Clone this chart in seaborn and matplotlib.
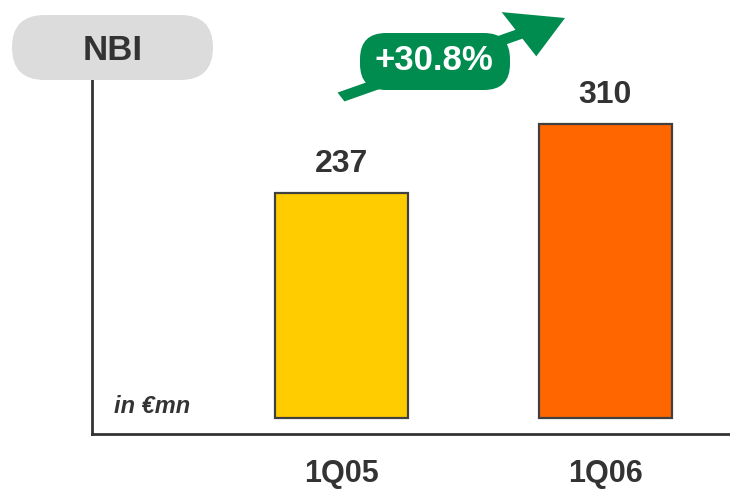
import matplotlib
matplotlib.use("Agg")
import matplotlib.pyplot as plt
from matplotlib.patches import FancyBboxPatch, FancyArrow
import seaborn as sns
import pandas as pd

quarters = ["1Q05", "1Q06"]
nbi_values = [237, 310]
bar_colors = ["#FFCC00", "#FF6600"]
growth_label = "+30.8%"
title_label = "NBI"
unit_label = "in €mn"

sns.set_theme(style="white")
plt.rcParams["font.family"] = ["Liberation Sans", "DejaVu Sans"]

df = pd.DataFrame({"quarter": quarters, "nbi": nbi_values})

fig = plt.figure(figsize=(7.3, 4.9), dpi=100)
ax = fig.add_axes([92 / 730, 56 / 490, 638 / 730, 354 / 490])

sns.barplot(data=df, x="quarter", y="nbi", hue="quarter",
            palette=bar_colors, saturation=1, width=0.505,
            edgecolor="#404040", linewidth=1.6, legend=False, ax=ax)

ax.set_xlim(-0.947, 1.474)
ax.set_ylim(-17, 356)

for i, v in enumerate(nbi_values):
    ax.text(i, v + 30, f"{v}", ha="center", va="center",
            fontsize=23, fontweight="bold", color="#333333")

ax.set_xlabel("")
ax.set_ylabel("")
ax.set_yticks([])
ax.set_xticks(range(len(quarters)))
ax.set_xticklabels(quarters, fontsize=22, fontweight="bold", color="#333333")
ax.tick_params(axis="x", length=0, pad=18)

for side in ["top", "right"]:
    ax.spines[side].set_visible(False)
for side in ["left", "bottom"]:
    ax.spines[side].set_color("#333333")
    ax.spines[side].set_linewidth(2)

ax.text(114 / 730, 1 - 406 / 490, unit_label, transform=fig.transFigure,
        fontsize=17, fontweight="bold", fontstyle="italic", color="#333333",
        ha="left", va="center")

# Title pill
pill = FancyBboxPatch((12 / 730, 1 - 80 / 490), 201 / 730, 65 / 490,
                      boxstyle="round,pad=0,rounding_size=%f" % (32.5 / 730),
                      transform=fig.transFigure, facecolor="#DCDCDC",
                      edgecolor="none", mutation_aspect=730 / 490)
fig.patches.append(pill)
fig.text(113 / 730, 1 - 51 / 490, title_label, fontsize=25, fontweight="bold",
         color="#333333", ha="center", va="center")

# Growth arrow
green = "#008C4F"
x0, y0 = 341, 97
x1, y1 = 565, 18
arrow = FancyArrow(x0 / 730, 1 - y0 / 490, (x1 - x0) / 730, -(y1 - y0) / 490,
                   width=10 / 490, head_width=50 / 490, head_length=52 / 730,
                   length_includes_head=True, transform=fig.transFigure,
                   color=green, linewidth=0)
fig.patches.append(arrow)

growth_pill = FancyBboxPatch((360 / 730, 1 - 90 / 490), 150 / 730, 57 / 490,
                             boxstyle="round,pad=0,rounding_size=%f" % (26 / 730),
                             transform=fig.transFigure, facecolor=green,
                             edgecolor="none", mutation_aspect=730 / 490)
fig.patches.append(growth_pill)
fig.text(434 / 730, 1 - 61 / 490, growth_label, fontsize=25, fontweight="bold",
         color="white", ha="center", va="center")

fig.savefig("out.png", dpi=100)
